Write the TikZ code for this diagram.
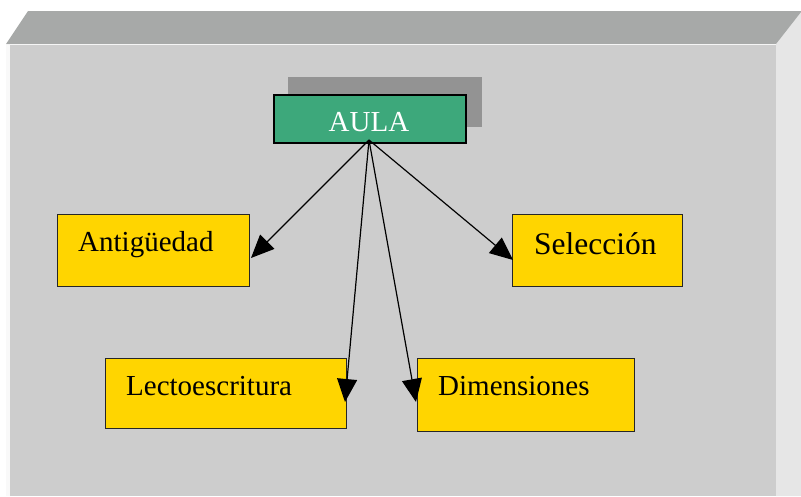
\documentclass[tikz,border=0pt]{standalone}
\usepackage{fontspec}
\setmainfont{Liberation Serif}
\usetikzlibrary{arrows.meta}
\definecolor{topface}{HTML}{A7A9A8}
\definecolor{frontface}{HTML}{CDCDCD}
\definecolor{sideface}{HTML}{E6E6E6}
\definecolor{aulagreen}{HTML}{3DA87B}
\definecolor{shadowgray}{HTML}{939393}
\definecolor{boxyellow}{HTML}{FFD500}
\tikzset{
  ybox/.style={draw=black!85, line width=1.2pt, fill=boxyellow},
  lbl/.style={anchor=base west, inner sep=0pt, font=\fontsize{29}{32}\selectfont},
  conn/.style={line width=1.2pt, -{Triangle[length=23pt,width=20pt]}}
}
\begin{document}
\begin{tikzpicture}[x=1pt,y=-1pt]
\useasboundingbox (0,0) rectangle (801,496);
% 3D panel
\fill[sideface] (776,44) -- (798,11) -- (801,11) -- (801,496) -- (776,496) -- cycle;
\fill[topface] (6,44) -- (28,11) -- (801,11) -- (801,12) -- (776,44) -- cycle;
\fill[frontface] (6,44) rectangle (776,496);
\fill[white!88!frontface] (6,44) rectangle (10,496);
\draw[white!80!frontface, line width=1pt] (6,44.5) -- (776,44.5);
% AULA
\fill[shadowgray] (288,77) rectangle (482,127);
\node[draw=black, line width=1.5pt, fill=aulagreen, minimum width=192pt, minimum height=48pt, inner sep=0pt, anchor=north west] (aula) at (273,94) {};
\node[anchor=base, inner sep=0pt, text=white, font=\fontsize{29}{32}\selectfont] (aulat) at (369,131) {AULA};
\coordinate (src) at (369,140);
% boxes
\node[ybox, anchor=north west, minimum width=192pt, minimum height=72pt, inner sep=0pt] (ant) at (57,214) {};
\node[lbl] (antt) at (78,251) {Antigüedad};
\node[ybox, anchor=north west, minimum width=170pt, minimum height=72pt, inner sep=0pt] (sel) at (512,214) {};
\node[lbl, font=\fontsize{31.5}{34}\selectfont] (selt) at (534,254) {Selección};
\node[ybox, anchor=north west, minimum width=241pt, minimum height=70pt, inner sep=0pt] (lec) at (105,358) {};
\node[lbl] (lect) at (126,395) {Lectoescritura};
\node[ybox, anchor=north west, minimum width=217pt, minimum height=73pt, inner sep=0pt] (dim) at (417,358) {};
\node[lbl] (dimt) at (438,395) {Dimensiones};
% connectors
\coordinate (tant) at (251,258);
\coordinate (tsel) at (513,260);
\coordinate (tlec) at (345,402);
\coordinate (tdim) at (416,402);
\draw[conn] (src) -- (tant);
\draw[conn] (src) -- (tsel);
\draw[conn] (src) -- (tlec);
\draw[conn] (src) -- (tdim);
\end{tikzpicture}
\end{document}
